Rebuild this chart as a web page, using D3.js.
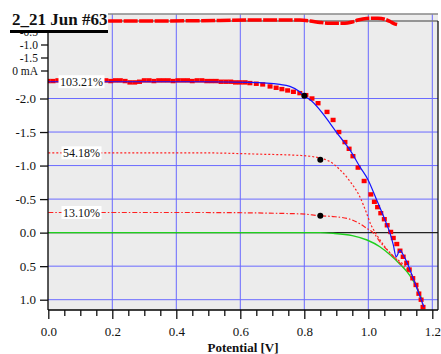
<!DOCTYPE html>
<html>
<head>
<meta charset="utf-8">
<title>2_21 Jun #63</title>
<style>
  body { margin: 0; background: #fff; }
  text { font-family: "Liberation Serif", "Times New Roman", serif; }
</style>
</head>
<body>
<svg width="441" height="354"></svg>
<script src="https://d3js.org/d3.v7.min.js"></script>
<script>
// ---- data (V in volts, I in mA) ----
var fit103 = [[0,-2.25],[0.474,-2.25],[0.63,-2.24],[0.724,-2.21],[0.755,-2.18],[0.786,-2.10],[0.799,-2.04],
  [0.818,-1.98],[0.911,-1.43],[0.943,-1.23],[0.974,-0.98],[0.999,-0.79],[1.026,-0.49],[1.052,-0.19],
  [1.068,0.01],[1.078,0.18],[1.087,0.36],[1.099,0.26],[1.109,0.33],[1.124,0.48],[1.14,0.68],[1.174,1.11]];

var meas103 = [[0.000,-2.26],[0.015,-2.26],[0.030,-2.27],[0.045,-2.26],[0.060,-2.27],[0.075,-2.27],[0.090,-2.26],
  [0.105,-2.27],[0.120,-2.27],[0.135,-2.26],[0.150,-2.27],[0.165,-2.27],[0.180,-2.27],[0.195,-2.26],
  [0.210,-2.27],[0.225,-2.27],[0.240,-2.26],[0.255,-2.24],[0.270,-2.24],[0.285,-2.25],[0.300,-2.27],
  [0.315,-2.27],[0.330,-2.26],[0.345,-2.27],[0.360,-2.27],[0.375,-2.27],[0.390,-2.26],[0.405,-2.27],
  [0.420,-2.27],[0.435,-2.27],[0.450,-2.26],[0.465,-2.27],[0.480,-2.27],[0.495,-2.26],[0.510,-2.26],
  [0.525,-2.26],[0.540,-2.25],[0.555,-2.25],[0.570,-2.25],[0.585,-2.24],[0.600,-2.24],[0.615,-2.24],
  [0.630,-2.23],[0.650,-2.22],[0.670,-2.21],[0.693,-2.18],[0.712,-2.16],[0.730,-2.14],[0.748,-2.12],
  [0.766,-2.10],[0.786,-2.08],[0.805,-2.05],[0.824,-2.00],[0.843,-1.93],[0.871,-1.80],[0.890,-1.68],
  [0.908,-1.50],[0.927,-1.35],[0.940,-1.25],[0.952,-1.14],[0.968,-0.97],[0.987,-0.77],[1.008,-0.57],
  [1.019,-0.46],[1.029,-0.38],[1.039,-0.29],[1.050,-0.20],[1.059,-0.11],[1.070,-0.01],[1.078,0.08],
  [1.089,0.17],[1.099,0.27],[1.109,0.36],[1.120,0.45],[1.128,0.55],[1.139,0.68],[1.149,0.78],
  [1.158,0.91],[1.165,1.00],[1.171,1.11]];

var curve54 = [[0,-1.19],[0.47,-1.19],[0.66,-1.17],[0.79,-1.15],[0.85,-1.11],[0.88,-1.06],[0.911,-0.94],
  [0.945,-0.75],[0.974,-0.53],[0.993,-0.31],[1.008,-0.12],[1.022,0.0],[1.047,0.18],[1.073,0.33],
  [1.099,0.43],[1.125,0.54],[1.145,0.72],[1.172,1.11]];

var curve13 = [[0,-0.30],[0.47,-0.30],[0.79,-0.28],[0.85,-0.25],[0.89,-0.24],[0.943,-0.20],[0.975,-0.13],
  [0.996,-0.06],[1.015,0.0],[1.040,0.16],[1.07,0.31],[1.10,0.46],[1.13,0.60],[1.15,0.78],[1.172,1.11]];

var dark0 = [[0,0.0],[0.85,0.0],[0.89,0.01],[0.95,0.045],[0.996,0.11],[1.036,0.21],[1.068,0.33],
  [1.099,0.47],[1.13,0.64],[1.152,0.82],[1.168,1.0]];

// dark current trace in the top strip (arbitrary inset units)
var darkStrip = [[0.187,0.0],[0.318,0.0],[0.474,0.04],[0.63,0.14],[0.724,0.14],[0.786,0.14],[0.818,0.0],
  [0.849,-0.21],[0.88,-0.33],[0.927,-0.33],[0.949,-0.14],[0.968,0.14],[0.983,0.29],[1.005,0.39],
  [1.03,0.39],[1.052,0.24],[1.068,-0.07],[1.08,-0.36],[1.09,-0.5]];

var mppDots = [[0.80,-2.04],[0.85,-1.085],[0.85,-0.25]];
var curveLabels = [["103.21%",-2.25],["54.18%",-1.19],["13.10%",-0.30]];
var xTickVals = [0,0.2,0.4,0.6,0.8,1.0,1.2];
var yTickVals = [-2,-1.5,-1,-0.5,0,0.5,1];
var insetLabels = ["-0.5","-1.0","-1.5","0 mA"];

// ---- layout ----
var L = 48, R = 438, T = 14, B = 310;
var svg = d3.select('svg');
var x = d3.scaleLinear().domain([0, 1.2]).range([48.3, 432.3]);
var y = d3.scaleLinear().domain([-2, 1]).range([98.5, 299.7]);
var yDark = d3.scaleLinear().domain([-1, 1]).range([28, 14]);

svg.append('rect').attr('x', L).attr('y', T).attr('width', R - L).attr('height', B - T).attr('fill', '#ececec');

svg.append('clipPath').attr('id', 'plot')
  .append('rect').attr('x', L).attr('y', T).attr('width', R - L).attr('height', B - T);

// grid
var grid = svg.append('g');
grid.selectAll('line.vx').data(xTickVals.slice(1)).enter().append('line')
  .attr('x1', d => x(d)).attr('x2', d => x(d)).attr('y1', T).attr('y2', B)
  .attr('stroke', '#6a6aff').attr('stroke-width', 1);
grid.selectAll('line.hy').data(yTickVals.filter(d => d !== 0)).enter().append('line')
  .attr('x1', L).attr('x2', R).attr('y1', d => y(d)).attr('y2', d => y(d))
  .attr('stroke', '#6a6aff').attr('stroke-width', 1);
grid.append('line').attr('x1', L).attr('x2', R).attr('y1', y(0)).attr('y2', y(0))
  .attr('stroke', '#222').attr('stroke-width', 1.3);

// top strip lines
svg.append('line').attr('x1', 108).attr('x2', R).attr('y1', T).attr('y2', T).attr('stroke', '#888').attr('stroke-width', 1.5);
svg.append('line').attr('x1', L).attr('x2', R).attr('y1', 21).attr('y2', 21).attr('stroke', '#777').attr('stroke-width', 1.3);
svg.append('line').attr('x1', R).attr('x2', R).attr('y1', 21).attr('y2', B).attr('stroke', '#111').attr('stroke-width', 1.3);

var g = svg.append('g').attr('clip-path', 'url(#plot)');
var line = d3.line().x(d => x(d[0])).y(d => y(d[1])).curve(d3.curveMonotoneX);

g.append('path').datum(dark0).attr('d', line).attr('fill', 'none')
  .attr('stroke', '#1ed01e').attr('stroke-width', 1.4);
g.append('path').datum(curve13).attr('d', line).attr('fill', 'none')
  .attr('stroke', '#ff2020').attr('stroke-width', 1.2).attr('stroke-dasharray', '5,2,1.5,2');
g.append('path').datum(curve54).attr('d', line).attr('fill', 'none')
  .attr('stroke', '#ff2020').attr('stroke-width', 1.2).attr('stroke-dasharray', '2,2');

g.selectAll('rect.m').data(meas103).enter().append('rect')
  .attr('x', d => x(d[0]) - 2.5).attr('y', d => y(d[1]) - 2.2)
  .attr('width', 5).attr('height', 4.4).attr('fill', '#ff0000');
g.append('path').datum(fit103).attr('d', line).attr('fill', 'none')
  .attr('stroke', '#1414ff').attr('stroke-width', 1.2);

// dark current strip
g.append('path').datum(darkStrip)
  .attr('d', d3.line().x(d => x(d[0])).y(d => yDark(d[1])).curve(d3.curveMonotoneX))
  .attr('fill', 'none').attr('stroke', '#ff0000').attr('stroke-width', 3.5)
  .attr('stroke-dasharray', '14,1.5');

g.selectAll('circle').data(mppDots).enter().append('circle')
  .attr('cx', d => x(d[0])).attr('cy', d => y(d[1])).attr('r', 3).attr('fill', '#000');

// curve labels
var lab = svg.selectAll('g.lab').data(curveLabels).enter().append('g');
lab.append('text').attr('x', (d, i) => i === 0 ? 60 : 63).attr('y', d => y(d[1]) + 4)
  .attr('font-size', 12).attr('fill', '#111').text(d => d[0])
  .each(function () {
    var b = this.getBBox();
    d3.select(this.parentNode).insert('rect', 'text')
      .attr('x', b.x - 1.5).attr('y', b.y + 0.5).attr('width', b.width + 3).attr('height', b.height - 1)
      .attr('fill', '#fff');
  });

// axes
svg.append('line').attr('x1', L).attr('x2', L).attr('y1', 33).attr('y2', B).attr('stroke', '#000').attr('stroke-width', 1.3);
svg.append('line').attr('x1', L).attr('x2', R).attr('y1', B).attr('y2', B).attr('stroke', '#000').attr('stroke-width', 1.3);

svg.append('g').attr('transform', 'translate(' + L + ',0)')
  .call(d3.axisLeft(y).tickValues(yTickVals).tickSize(8).tickPadding(4).tickFormat(d => d.toFixed(1)));
svg.append('g').attr('transform', 'translate(0,' + B + ')')
  .call(d3.axisBottom(x).tickValues(xTickVals).tickSize(9).tickPadding(8).tickFormat(d => d.toFixed(1)));
var minor = d3.range(0, 25).map(i => i * 0.05).filter(v => xTickVals.indexOf(+v.toFixed(2)) < 0);
svg.append('g').attr('transform', 'translate(0,' + B + ')')
  .call(d3.axisBottom(x).tickValues(minor).tickSize(6).tickFormat(''));
svg.selectAll('.domain').remove();
svg.selectAll('.tick line').attr('stroke', '#111').attr('stroke-width', 1.3);
svg.selectAll('.tick text').attr('font-size', 13).attr('fill', '#111')
  .attr('font-family', '"Liberation Serif", serif');

// inset axis labels (top strip); the first one sits under the title rule
var yInset = d3.scalePoint().domain(insetLabels).range([32, 71]);
var ins = svg.append('g');
ins.selectAll('text').data(insetLabels).enter().append('text')
  .attr('x', 38).attr('y', d => yInset(d) + 4).attr('text-anchor', 'end')
  .attr('font-size', 11.5).attr('fill', '#111').text(d => d);
ins.selectAll('line').data(insetLabels.slice(1)).enter().append('line')
  .attr('x1', 41).attr('x2', L).attr('y1', d => yInset(d)).attr('y2', d => yInset(d))
  .attr('stroke', '#111').attr('stroke-width', 1.3);

// title
svg.append('rect').attr('x', 0).attr('y', 0).attr('width', 108).attr('height', 30).attr('fill', '#fff');
svg.append('text').attr('x', 12).attr('y', 25).attr('font-size', 17).attr('font-weight', 'bold')
  .attr('fill', '#111').text('2_21 Jun #63');
svg.append('line').attr('x1', 10).attr('x2', 108).attr('y1', 31.5).attr('y2', 31.5)
  .attr('stroke', '#000').attr('stroke-width', 3);

svg.append('text').attr('x', 243).attr('y', 352).attr('text-anchor', 'middle')
  .attr('font-size', 13).attr('font-weight', 'bold').attr('fill', '#111').text('Potential [V]');
</script>
</body>
</html>
